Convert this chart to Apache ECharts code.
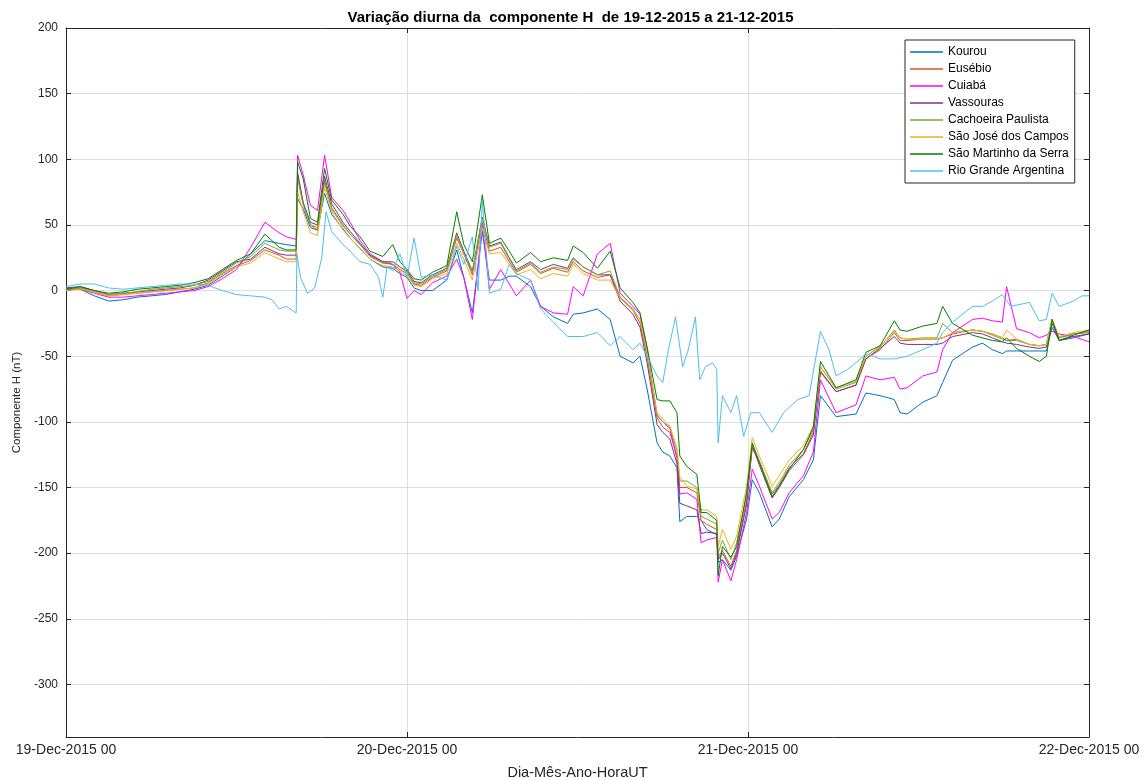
<!DOCTYPE html>
<html>
<head>
<meta charset="utf-8">
<title>Componente H</title>
<script src="https://cdn.jsdelivr.net/npm/echarts@6/dist/echarts.min.js"></script>
<style>
    html, body { margin: 0; padding: 0; background: #fff; }
    #chartMain { width: 1141px; height: 780px; }
</style>
</head>
<body>
<div id="chartMain"></div>
<script>
// horas desde 19-Dec-2015 00 UT
var hours = [
    0, 1, 2, 3, 4, 5, 6, 7, 8, 9,
    10, 11, 12, 13, 14, 15, 15.5, 16.2, 16.3, 16.7,
    17.2, 17.7, 18.2, 18.7, 19.5, 20, 20.7, 21.4, 22.3, 23,
    23.5, 24, 24.5, 25, 25.8, 26.8, 27.5, 28, 28.6, 29.3,
    29.8, 30.6, 31.2, 31.7, 32.7, 33.4, 34.3, 35.3, 35.7, 36.4,
    37.4, 38.3, 39, 39.9, 40.4, 40.9, 41.6, 42, 42.5, 43,
    43.2, 43.7, 44.4, 44.7, 45.1, 45.8, 45.9, 46.2, 46.8, 47.2,
    47.9, 48.3, 48.8, 49.7, 50.2, 50.9, 51.9, 52.6, 53.1, 54.2,
    55.6, 56.3, 57.3, 58.3, 58.7, 59.2, 60.3, 61.3, 61.7, 62.4,
    63.8, 64.5, 65.2, 65.9, 66.2, 66.9, 67.8, 68.5, 69, 69.4,
    69.9, 70.9, 72
];
var kourou = [
    2, 1, -4, -8, -7, -5, -4, -3, -1, 1,
    4, 11, 18, 28, 38, 36, 35, 34, 70, 62,
    48, 46, 74, 58, 47, 40, 32, 24, 18, 17,
    13, 10, 2, 0, 0, 8, 31, 10, -17, 45,
    8, 8, 11, 11, 3, -12, -20, -25, -18, -17,
    -14, -22, -50, -55, -50, -75, -116, -123, -126, -135,
    -176, -172, -172, -175, -182, -186, -207, -205, -213, -202,
    -174, -144, -154, -180, -174, -157, -144, -129, -80, -96,
    -94, -78, -80, -83, -93, -94, -85, -80, -70, -53,
    -43, -40, -45, -48, -46, -46, -46, -46, -46, -28,
    -38, -36, -33
];
var eusebio = [
    1, 2, -1, -4, -3, -2, -1, 0, 1, 2,
    6, 13, 19, 23, 31, 27, 24, 24, 88, 66,
    50, 46, 84, 63, 50, 43, 35, 26, 21, 20,
    16, 13, 5, 4, 10, 15, 40, 28, 12, 52,
    30, 33, 22, 14, 20, 13, 17, 14, 22, 15,
    10, 12, -5, -15, -25, -50, -97, -104, -108, -126,
    -150, -150, -154, -175, -178, -182, -203, -198, -210, -198,
    -160, -120, -130, -155, -148, -135, -124, -108, -61, -77,
    -72, -52, -45, -32, -38, -38, -37, -37, -36, -33,
    -30, -31, -33, -36, -38, -37, -41, -42, -41, -22,
    -36, -33, -32
];
var cuiaba = [
    1, 1, -2, -5, -5, -4, -3, -2, -1, 0,
    3, 9, 16, 33, 52, 44, 41, 39, 103, 88,
    65, 61, 103, 71, 61, 52, 38, 28, 22, 20,
    14, -6, 0, -3, 6, 11, 24, 10, -22, 50,
    1, 16, 5, -4, 8, -12, -17, -18, 3, -4,
    28, 36, -2, -12, -18, -45, -95, -100, -105, -128,
    -155, -154, -159, -192, -190, -188, -222, -205, -221, -205,
    -169, -136, -149, -174, -169, -154, -141, -123, -68, -93,
    -87, -65, -68, -66, -75, -74, -65, -62, -45, -32,
    -22, -21, -23, -24, 3, -29, -32, -36, -34, -31,
    -33, -35, -39
];
var vassouras = [
    2, 3, 0, -3, -2, -1, 0, 1, 2, 4,
    8, 15, 22, 24, 33, 28, 27, 27, 90, 67,
    52, 50, 87, 66, 52, 45, 36, 27, 22, 22,
    18, 15, 7, 6, 12, 17, 44, 30, 15, 56,
    34, 37, 25, 16, 22, 16, 20, 17, 25, 18,
    12, 12, -8, -18, -28, -55, -102, -108, -113, -132,
    -162, -164, -167, -185, -184, -185, -205, -200, -212, -200,
    -163, -118, -133, -158, -150, -137, -125, -110, -62, -77,
    -72, -52, -44, -35, -40, -41, -41, -41, -40, -35,
    -32, -33, -36, -39, -40, -41, -43, -44, -43, -25,
    -38, -35, -33
];
var cachoeira = [
    1, 2, 0, -3, -2, -1, 1, 2, 3, 4,
    7, 14, 21, 26, 36, 31, 30, 30, 85, 65,
    50, 48, 82, 62, 49, 43, 35, 26, 21, 22,
    18, 14, 6, 5, 11, 16, 42, 28, 14, 55,
    33, 36, 24, 15, 21, 14, 18, 16, 24, 18,
    12, 15, -5, -14, -22, -48, -95, -100, -104, -122,
    -145, -145, -150, -172, -174, -178, -200, -190, -205, -192,
    -156, -117, -130, -154, -146, -133, -121, -106, -58, -75,
    -70, -50, -43, -30, -36, -37, -36, -36, -25, -32,
    -30, -31, -34, -37, -38, -38, -41, -42, -41, -22,
    -36, -33, -31
];
var saoJose = [
    0, 1, -1, -4, -3, -2, -1, 0, 1, 2,
    5, 12, 18, 21, 29, 24, 22, 22, 75, 60,
    44, 42, 79, 60, 46, 40, 32, 24, 19, 18,
    15, 11, 4, 3, 9, 13, 36, 24, 8, 48,
    28, 29, 20, 12, 16, 9, 13, 11, 20, 13,
    8, 8, -6, -15, -22, -47, -93, -98, -103, -120,
    -142, -149, -151, -167, -167, -172, -195, -182, -197, -187,
    -149, -112, -126, -149, -141, -129, -118, -103, -58, -74,
    -69, -50, -42, -31, -36, -37, -37, -37, -36, -32,
    -30, -31, -33, -36, -30, -37, -41, -42, -41, -22,
    -35, -32, -30
];
var saoMartinho = [
    1, 3, 0, -2, -1, 1, 2, 3, 4, 6,
    9, 16, 23, 28, 43, 33, 31, 31, 98, 85,
    55, 52, 93, 69, 58, 49, 41, 30, 26, 35,
    22, 16, 9, 8, 14, 19, 60, 35, 22, 73,
    36, 40, 30, 21, 29, 22, 25, 23, 34, 29,
    17, 30, 2, -9, -17, -43, -83, -84, -84, -93,
    -126, -134, -140, -169, -169, -175, -217, -195, -203, -195,
    -154, -116, -131, -157, -149, -136, -121, -104, -54, -74,
    -68, -47, -42, -23, -30, -31, -27, -25, -12, -25,
    -34, -36, -38, -39, -36, -44, -50, -54, -50, -22,
    -38, -34, -30
];
// Rio Grande tem amostragem propria (picos em outros horarios)
var rgHours = [
    0, 1, 2, 3, 4, 5, 6, 7, 8, 9,
    10, 11, 12, 13, 14, 14.5, 15, 15.5, 16.2, 16.25,
    16.5, 17, 17.5, 18, 18.3, 18.7, 19.5, 20, 20.7, 21.4,
    22, 22.3, 22.6, 23, 23.5, 24, 24.5, 25, 25.8, 26.8,
    27.5, 28, 28.6, 29, 29.3, 29.8, 30.6, 31.2, 31.7, 32.7,
    33.4, 34.3, 35.3, 36.4, 37.4, 38.3, 39, 39.9, 40.4, 40.9,
    41.6, 42, 42.4, 42.9, 43.4, 43.8, 44.3, 44.6, 45, 45.5,
    45.8, 45.9, 46.2, 46.8, 47.2, 47.7, 48.2, 48.8, 49.7, 50.5,
    51.5, 52.3, 53.1, 53.7, 54.2, 55, 55.6, 56.3, 57.3, 58.3,
    59.2, 60.3, 61.3, 61.7, 62.4, 63.8, 64.5, 65.2, 65.9, 66.5,
    67.8, 68.5, 69, 69.4, 69.9, 70.9, 71.5, 72
];
var rioGrande = [
    3, 5, 5, 2, 1, 2, 3, 4, 5, 5,
    4, 0, -3, -4, -5, -7, -14, -12, -17, 28,
    10, -2, 2, 25, 60, 45, 35, 30, 22, 20,
    10, -5, 18, 15, 28, 10, 40, 10, 12, 8,
    34, 20, 41, 0, 69, -2, 1, 20, 13, 8,
    -14, -24, -35, -35, -32, -42, -35, -45, -40, -50,
    -65, -70, -45, -20, -58, -45, -20, -68, -58, -55,
    -60, -116, -80, -93, -80, -111, -93, -93, -108, -93,
    -83, -80, -31, -45, -65, -60, -55, -48, -52, -52,
    -50, -45, -40, -32, -24, -12, -12, -8, -3, -12,
    -9, -23, -22, -2, -12, -8, -4, -4
];

var stationNames = ['Kourou', 'Eusébio', 'Cuiabá', 'Vassouras', 'Cachoeira Paulista',
    'São José dos Campos', 'São Martinho da Serra', 'Rio Grande Argentina'];
var stationColors = ['#0072BD', '#D95319', '#FF00FF', '#7E2F8E', '#77AC30',
    '#EDB120', '#008000', '#4DBEEE'];
var xTicks = [0, 24, 48, 72];
var xTickLabels = ['19-Dec-2015 00', '20-Dec-2015 00', '21-Dec-2015 00', '22-Dec-2015 00'];
var yTicks = [-300, -250, -200, -150, -100, -50, 0, 50, 100, 150, 200];

var fontName = '"Liberation Sans", Arial, sans-serif';
var axisColor = '#262626';

function pairUp(xs, ys) {
    var out = [];
    for (var i = 0; i < xs.length; i++) {
        out.push([xs[i], ys[i]]);
    }
    return out;
}

var seriesValues = [kourou, eusebio, cuiaba, vassouras, cachoeira, saoJose, saoMartinho, rioGrande];
var series = [];
for (var s = 0; s < stationNames.length; s++) {
    var xs = (s == 7) ? rgHours : hours;
    series.push({
        name: stationNames[s],
        type: 'line',
        data: pairUp(xs, seriesValues[s]),
        symbol: 'none',
        showSymbol: false,
        lineStyle: { width: 1, color: stationColors[s] },
        itemStyle: { color: stationColors[s] },
        emphasis: { disabled: true },
        animation: false
    });
}

var myChart = echarts.init(document.getElementById('chartMain'));
var option = {
    backgroundColor: '#ffffff',
    animation: false,
    textStyle: { fontFamily: fontName },
    title: {
        text: 'Variação diurna da  componente H  de 19-12-2015 a 21-12-2015',
        left: 'center',
        top: 5,
        textStyle: { fontFamily: fontName, fontSize: 15, fontWeight: 'bold', color: '#000' }
    },
    // sem ajuste automatico: os rotulos das pontas podem sair da area
    grid: { left: 66, right: 52, top: 28, bottom: 43, containLabel: false, outerBoundsMode: 'none' },
    legend: {
        data: stationNames,
        orient: 'vertical',
        left: 905,
        top: 40,
        padding: [5, 6, 5, 5],
        itemGap: 3,
        itemWidth: 33,
        itemHeight: 1.5,
        icon: 'rect',
        borderColor: axisColor,
        borderWidth: 1,
        backgroundColor: '#ffffff',
        textStyle: { fontFamily: fontName, fontSize: 12, color: '#000', lineHeight: 14 }
    },
    xAxis: [{
        type: 'value',
        min: 0,
        max: 72,
        interval: 24,
        name: 'Dia-Mês-Ano-HoraUT',
        nameLocation: 'middle',
        nameGap: 28,
        nameTextStyle: { fontFamily: fontName, fontSize: 14.5, color: axisColor },
        axisLine: { show: true, onZero: false, lineStyle: { color: axisColor } },
        axisTick: { show: true, inside: true, length: 5, lineStyle: { color: axisColor } },
        axisLabel: {
            fontFamily: fontName, fontSize: 14, color: axisColor, margin: 6,
            showMinLabel: true, showMaxLabel: true,
            formatter: function (v) {
                var k = xTicks.indexOf(v);
                return k >= 0 ? xTickLabels[k] : '';
            }
        },
        splitLine: { show: true, lineStyle: { color: '#dedede' } }
    }, {
        type: 'value',
        position: 'top',
        min: 0,
        max: 72,
        interval: 24,
        axisLine: { show: true, onZero: false, lineStyle: { color: axisColor } },
        axisTick: { show: true, inside: true, length: 5, lineStyle: { color: axisColor } },
        axisLabel: { show: false },
        splitLine: { show: false }
    }],
    yAxis: [{
        type: 'value',
        min: -340,
        max: 200,
        name: 'Componente H (nT)',
        nameLocation: 'middle',
        nameGap: 38,
        nameTextStyle: { fontFamily: fontName, fontSize: 11.5, color: axisColor, padding: [0, 40, 0, 0] },
        axisLine: { show: true, onZero: false, lineStyle: { color: axisColor } },
        axisTick: { show: true, inside: true, length: 5, customValues: yTicks, lineStyle: { color: axisColor } },
        axisLabel: { fontFamily: fontName, fontSize: 12, color: axisColor, margin: 8, customValues: yTicks },
        splitLine: { show: true, lineStyle: { color: '#dedede' } }
    }, {
        type: 'value',
        position: 'right',
        min: -340,
        max: 200,
        axisLine: { show: true, onZero: false, lineStyle: { color: axisColor } },
        axisTick: { show: true, inside: true, length: 5, customValues: yTicks, lineStyle: { color: axisColor } },
        axisLabel: { show: false, customValues: yTicks },
        splitLine: { show: false }
    }],
    series: series
};
myChart.setOption(option);
</script>
</body>
</html>
